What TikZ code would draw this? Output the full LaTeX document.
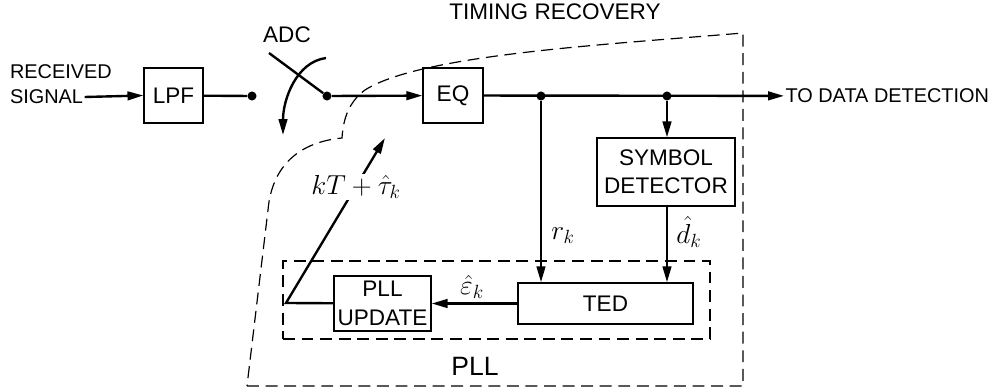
\documentclass[tikz,border=0pt]{standalone}
\usepackage{fontspec}
\setmainfont{Liberation Sans}
\usepackage{tikz}
\usetikzlibrary{arrows.meta, positioning, calc}

\begin{document}
\begin{tikzpicture}[
    x=0.0265cm, y=-0.0265cm,
    block/.style={rectangle, draw, line width=1pt, align=center, inner sep=1pt, font=\fontsize{17}{21}\selectfont},
    dot/.style={circle, fill, inner sep=0pt, minimum size=0.24cm},
    sigline/.style={line width=1.8pt},
    arrow/.style={-{Triangle[length=12pt,width=6.5pt]}, line width=1.8pt},
    dashbox/.style={draw, line width=0.9pt, dash pattern=on 9pt off 5pt},
    txt/.style={inner sep=1pt, font=\fontsize{15}{18}\selectfont},
    bigtxt/.style={inner sep=1pt, font=\fontsize{17}{21}\selectfont},
    mathtxt/.style={inner sep=1pt, font=\fontsize{21}{24}\selectfont}
]
\useasboundingbox (0,0) rectangle (995,391);

% Timing recovery region
\draw[line width=0.9pt, dash pattern=on 9pt off 5pt]
    (247,386) -- (743,386) -- (743,33)
    .. controls (600,45) and (420,55) .. (365,90)
    .. controls (346,104) and (343,124) .. (342,138)
    .. controls (300,142) and (272,165) .. (268,210) -- cycle;
\node[bigtxt] (trlabel) at (555,12) {TIMING RECOVERY};

% Input
\node[txt] (sig) at (46.5,97) {SIGNAL};
\node[txt, anchor=base west] (rec) at ($(sig.base west)+(0,-25)$) {RECEIVED};
\node[block, minimum width=1.56cm, minimum height=1.46cm] (lpf) at (173.5,95.5) {LPF};
\node[dot] (d1) at (252,96) {};
\node[dot] (d2) at (327,96) {};
\node[block, minimum width=1.59cm, minimum height=1.46cm] (eq) at (453,95.5) {EQ};
\node[txt, anchor=west] (todata) at (784,96) {TO DATA DETECTION};

% ADC switch
\node[bigtxt] (adc) at (287,35) {ADC};
\coordinate (swtop) at (269,53);
\coordinate (arcstart) at (326,58);
\coordinate (arcend) at (283,135);
\draw[sigline] (swtop) -- (d2);
\draw[arrow] (arcstart) .. controls (296,62) and (283,100) .. (arcend);

% Blocks
\node[block, minimum width=3.66cm, minimum height=1.80cm] (symdet) at (666,172) {SYMBOL\\DETECTOR};
\node[block, minimum width=4.64cm, minimum height=1.09cm] (ted) at (605.5,303.5) {TED};
\node[block, minimum width=2.57cm, minimum height=1.46cm, font=\fontsize{17}{22}\selectfont] (pllup) at (382.5,303.5) {PLL\\UPDATE};
\node[dashbox, minimum width=11.32cm, minimum height=2.07cm] (pll) at (496.5,300) {};
\node[font=\fontsize{20}{24}\selectfont, inner sep=1pt] (plllabel) at (475,366) {PLL};

% Signal path
\draw[arrow] (sig.east) -- (lpf.west);
\draw[sigline] (lpf) -- (d1);
\draw[arrow] (d2) -- (eq);
\node[dot] (d3) at (541,96) {};
\node[dot] (d4) at (667,96) {};
\draw[arrow] (eq) -- (todata);
\draw[arrow] (d4) -- (d4 |- symdet.north);
\draw[arrow] (d4 |- symdet.south) -- (d4 |- ted.north);
\draw[arrow] (d3) -- (d3 |- ted.north);
\draw[arrow] (ted) -- (pllup);

% Feedback
\coordinate (corner) at (286,303);
\coordinate (kttip) at (385,138);
\draw[arrow] (pllup) -- (corner) -- (kttip);
\node[mathtxt, fill=white] (ktlabel) at (356,187) {$kT+\hat{\tau}_k$};

% Labels
\node[mathtxt] (rk) at (563,236) {$r_k$};
\node[mathtxt] (dk) at (689,232) {$\hat{d}_k$};
\node[mathtxt] (ek) at (472,287) {$\hat{\varepsilon}_k$};
\end{tikzpicture}
\end{document}
